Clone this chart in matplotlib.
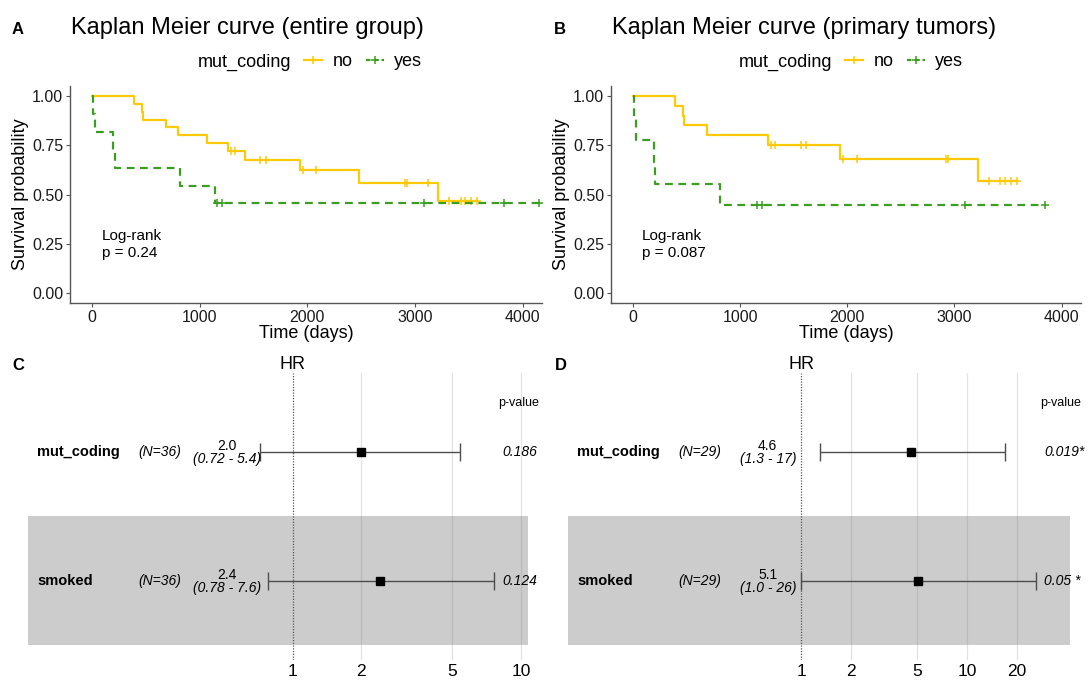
import numpy as np
import matplotlib
matplotlib.use("Agg")
import matplotlib.pyplot as plt
from matplotlib.lines import Line2D

plt.rcParams['font.family'] = ['Liberation Sans', 'DejaVu Sans']

# -----------------------------
# Data
# -----------------------------
# Kaplan Meier, entire group (days of event / censoring)
no_A_events = [389, 463, 473, 690, 797, 1072, 1263, 1419, 1930, 2481, 3210]
no_A_censor = [1289, 1331, 1558, 1619, 1956, 2083, 2908, 2925, 3119,
               3313, 3427, 3466, 3524, 3572]
yes_A_events = [13, 29, 194, 211, 819, 1147]
yes_A_censor = [1163, 1208, 3087, 3825, 4155]

# Kaplan Meier, primary tumors
no_B_events = [389, 464, 473, 687, 1261, 1932, 3222]
no_B_censor = [1287, 1329, 1569, 1611, 1958, 2088, 2917, 2940,
               3319, 3426, 3475, 3530, 3582]
yes_B_events = [13, 29, 194, 211, 817]
yes_B_censor = [1157, 1209, 3096, 3841]

logrank_A = "Log-rank\np = 0.24"
logrank_B = "Log-rank\np = 0.087"

# Forest plots (Cox model)
variables = ['mut_coding', 'smoked']
n_C = 36
hr_C = [2.0, 2.4]
ci_C = ['(0.72 - 5.4)', '(0.78 - 7.6)']
lo_C = [0.72, 0.78]
hi_C = [5.4, 7.6]
p_C = ['0.186', '0.124']

n_D = 29
hr_D = [4.6, 5.1]
ci_D = ['(1.3 - 17)', '(1.0 - 26)']
lo_D = [1.3, 1.0]
hi_D = [17, 26]
p_D = ['0.019*', '0.05 *']

ticks_C = [1, 2, 5, 10]
ticks_D = [1, 2, 5, 10, 20]

YELLOW = '#FFC907'
GREEN = '#3A9E1E'
W, H = 1089, 682


def km(events, censors):
    times = sorted(set(events) | set(censors))
    n = len(events) + len(censors)
    s = 1.0
    xs, ys, cx, cy = [0], [1.0], [], []
    for t in times:
        d = events.count(t)
        c = censors.count(t)
        if d:
            s *= 1 - d / n
            xs.append(t)
            ys.append(s)
        if c:
            cx += [t] * c
            cy += [s] * c
        n -= d + c
    xs.append(times[-1])
    ys.append(s)
    return xs, ys, cx, cy


def fx(px):
    return px / W


def fy(py):
    return 1 - py / H


fig = plt.figure(figsize=(10.89, 6.82), dpi=100)


# -----------------------------
# Kaplan Meier panels
# -----------------------------
def km_panel(left_px, right_px, letter, letter_x, title, title_x, leg_x,
             no_ev, no_ce, yes_ev, yes_ce, lr_text, lr_x):
    ax = fig.add_axes([fx(left_px), fy(303), fx(right_px - left_px), (303 - 86) / H])
    for ev, ce, col, ls in [(no_ev, no_ce, YELLOW, '-'), (yes_ev, yes_ce, GREEN, (0, (3.5, 2.5)))]:
        xs, ys, cx, cy = km(ev, ce)
        ax.step(xs, ys, where='post', color=col, lw=1.6, ls=ls)
        ax.plot(cx, cy, ls='none', marker='+', color=col, ms=6, mew=1.1)
    ax.set_xlim(-204, 4180)
    ax.set_ylim(-0.05, 1.05)
    ax.set_xticks([0, 1000, 2000, 3000, 4000])
    ax.set_yticks([0, 0.25, 0.5, 0.75, 1.0])
    ax.set_yticklabels(['0.00', '0.25', '0.50', '0.75', '1.00'])
    for sp in ['top', 'right']:
        ax.spines[sp].set_visible(False)
    for sp in ['left', 'bottom']:
        ax.spines[sp].set_color('#555555')
        ax.spines[sp].set_linewidth(1.0)
    ax.tick_params(colors='#555555', labelcolor='#1a1a1a', labelsize=11.5,
                   length=3, width=0.8, pad=2)
    ax.set_xlabel('Time (days)', fontsize=13, labelpad=0)
    ax.set_ylabel('Survival probability', fontsize=13, labelpad=2)
    ax.text(lr_x, 0.245, lr_text, fontsize=11, va='center', ha='left', linespacing=1.25)

    fig.text(fx(letter_x), fy(29), letter, fontsize=12, fontweight='bold', va='center')
    fig.text(fx(title_x), fy(28), title, fontsize=17, va='center')
    fig.text(fx(leg_x), fy(62), 'mut_coding', fontsize=13, va='center')
    handles = [Line2D([], [], color=YELLOW, lw=1.6, marker='+', ms=6, mew=1.1),
               Line2D([], [], color=GREEN, lw=1.6, ls=(0, (2, 1.5)), marker='+', ms=6, mew=1.1)]
    fig.legend(handles, ['no', 'yes'], ncol=2, loc='center left',
               bbox_to_anchor=(fx(leg_x + 106), fy(62)), frameon=False, fontsize=13,
               handlelength=1.0, handletextpad=0.6, columnspacing=0.7,
               borderpad=0, borderaxespad=0)
    return ax


km_panel(70, 542, 'A', 12, 'Kaplan Meier curve (entire group)', 71, 198,
         no_A_events, no_A_censor, yes_A_events, yes_A_censor, logrank_A, 90)
km_panel(611, 1081, 'B', 554, 'Kaplan Meier curve (primary tumors)', 612, 739,
         no_B_events, no_B_censor, yes_B_events, yes_B_censor, logrank_B, 81)


# -----------------------------
# Forest panels
# -----------------------------
def forest_panel(left_px, right_px, one_px, decade_px, letter, letter_x,
                 n, hr, ci, lo, hi, pv, ticks):
    x0 = 10 ** ((left_px - one_px) / decade_px)
    x1 = 10 ** ((right_px - one_px) / decade_px)
    ax = fig.add_axes([fx(left_px), fy(660), fx(right_px - left_px), (660 - 373) / H])
    ax.set_xscale('log')
    ax.set_xlim(x0, x1)
    ax.set_ylim(0.384, 2.61)
    rows = [2, 1]
    ax.axhspan(0.5, 1.5, color='#cccccc', lw=0, zorder=0)
    for t in ticks[1:]:
        ax.axvline(t, color='#8c8c8c', alpha=0.25, lw=0.9, zorder=1)
    ax.axvline(1, color='#555555', ls=(0, (1, 1.2)), lw=0.9, zorder=2)
    ax.errorbar(hr, rows, xerr=[np.array(hr) - np.array(lo), np.array(hi) - np.array(hr)],
                fmt='none', ecolor='#4d4d4d', elinewidth=1.0, capsize=6.8, capthick=1.0, zorder=3)
    ax.plot(hr, rows, ls='none', marker='s', color='black', ms=6, zorder=4)

    tr = ax.get_xaxis_transform()
    blend = matplotlib.transforms.blended_transform_factory(ax.transAxes, ax.transData)
    for i, r in enumerate(rows):
        ax.text(0.019, r, variables[i], transform=blend, fontsize=10.5,
                fontweight='bold', va='center', ha='left')
        ax.text(0.221, r, '(N=%d)' % n, transform=blend, fontsize=10,
                style='italic', va='center', ha='left')
        ax.text(0.398, r + 0.045, '%.1f' % hr[i], transform=blend, fontsize=10,
                va='center', ha='center')
        ax.text(0.399, r - 0.06, ci[i], transform=blend, fontsize=10,
                style='italic', va='center', ha='center')
        ax.text(0.949, r, pv[i], transform=blend, fontsize=10, style='italic',
                va='center', ha='left', clip_on=False)
    ax.text(0.941, 2.38, 'p-value', transform=blend, fontsize=9, va='center', ha='left')
    ax.text(1, 1.028, 'HR', transform=tr, fontsize=13, ha='center', va='center')

    ax.set_xticks(ticks)
    ax.set_xticklabels([str(t) for t in ticks])
    ax.minorticks_off()
    ax.tick_params(axis='x', length=0, labelsize=12.5, pad=3)
    ax.set_yticks([])
    for sp in ax.spines.values():
        sp.set_visible(False)
    fig.text(fx(letter_x), fy(366), letter, fontsize=12, fontweight='bold', va='center')
    return ax


forest_panel(27.9, 528, 292.7, 228.3, 'C', 12, n_C, hr_C, ci_C, lo_C, hi_C, p_C, ticks_C)
forest_panel(567.6, 1070, 801, 166, 'D', 555, n_D, hr_D, ci_D, lo_D, hi_D, p_D, ticks_D)

plt.savefig('out.png', dpi=100)
plt.close()
